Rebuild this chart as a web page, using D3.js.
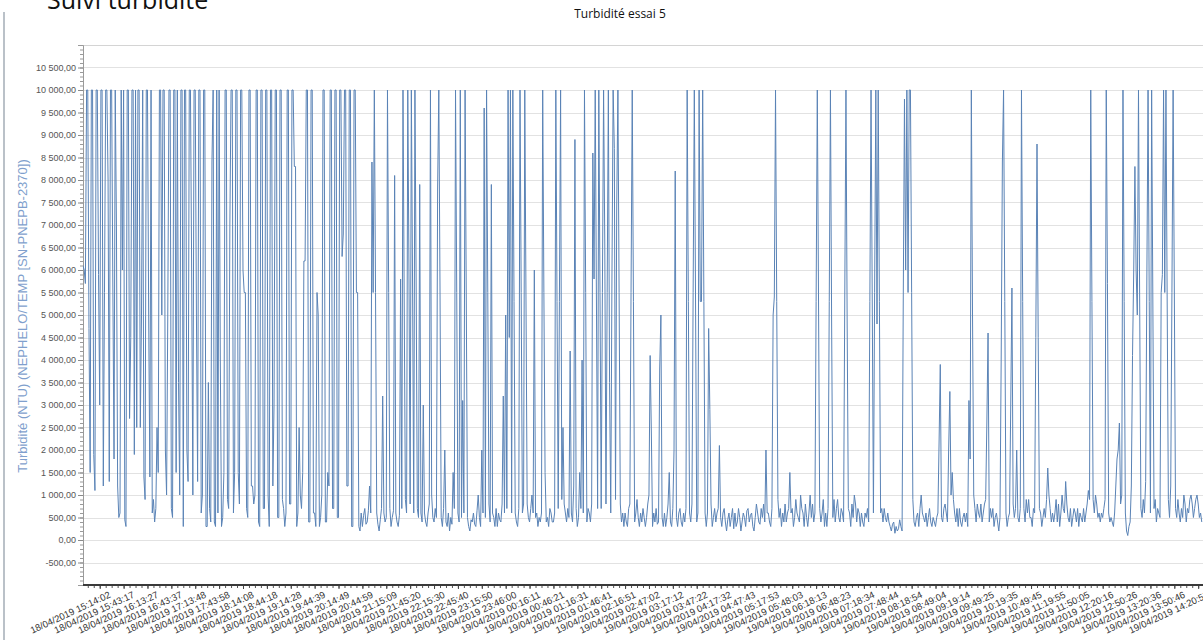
<!DOCTYPE html>
<html>
<head>
<meta charset="utf-8">
<script src="https://cdn.jsdelivr.net/npm/d3@7/dist/d3.min.js"></script>
<style>
  body { margin: 0; background: #fff; }
  svg { display: block; }
</style>
</head>
<body>
<svg id="chart" width="1203" height="640"></svg>
<script>
const tickLabels = [
  '18/04/2019 15:14:02','18/04/2019 15:43:17','18/04/2019 16:13:27','18/04/2019 16:43:37',
  '18/04/2019 17:13:48','18/04/2019 17:43:58','18/04/2019 18:14:08','18/04/2019 18:44:18',
  '18/04/2019 19:14:28','18/04/2019 19:44:39','18/04/2019 20:14:49','18/04/2019 20:44:59',
  '18/04/2019 21:15:09','18/04/2019 21:45:20','18/04/2019 22:15:30','18/04/2019 22:45:40',
  '18/04/2019 23:15:50','18/04/2019 23:46:00','19/04/2019 00:16:11','19/04/2019 00:46:21',
  '19/04/2019 01:16:31','19/04/2019 01:46:41','19/04/2019 02:16:51','19/04/2019 02:47:02',
  '19/04/2019 03:17:12','19/04/2019 03:47:22','19/04/2019 04:17:32','19/04/2019 04:47:43',
  '19/04/2019 05:17:53','19/04/2019 05:48:03','19/04/2019 06:18:13','19/04/2019 06:48:23',
  '19/04/2019 07:18:34','19/04/2019 07:48:44','19/04/2019 08:18:54','19/04/2019 08:49:04',
  '19/04/2019 09:19:14','19/04/2019 09:49:25','19/04/2019 10:19:35','19/04/2019 10:49:45',
  '19/04/2019 11:19:55','19/04/2019 11:50:05','19/04/2019 12:20:16','19/04/2019 12:50:26',
  '19/04/2019 13:20:36','19/04/2019 13:50:46','19/04/2019 14:20:57'
];

// sample index of the first labelled time, then one label every 20 samples
const firstLabelIndex = 14;
const samplesPerLabel = 20;

// turbidity (NTU), one row per label interval
const turbidity = [
  6100,6000,5700,10000,10000,4700,1500,10000,10000,1900,1100,10000,10000,5900,
  3000,10000,10000,1200,5500,10000,10000,8000,1300,10000,10000,5600,1800,10000,7000,1200,500,600,10000,6000,
  10000,450,300,10000,10000,2700,4500,10000,10000,1900,10000,2500,10000,10000,2500,5000,10000,1400,900,10000,
  10000,5000,1400,10000,600,900,400,700,2500,1500,10000,10000,5000,10000,10000,2000,1000,5000,10000,10000,
  700,500,10000,10000,1500,10000,3500,1000,10000,10000,300,10000,10000,2000,1300,10000,10000,6000,1000,10000,
  10000,5000,1300,10000,10000,600,1000,10000,10000,300,300,3500,700,400,8400,10000,400,300,10000,600,
  10000,4000,300,500,1500,10000,10000,900,700,7000,10000,10000,600,1500,10000,10000,1500,800,10000,10000,
  6000,5500,5500,700,500,10000,10000,1200,1200,800,1000,10000,10000,400,300,10000,10000,700,700,10000,
  10000,1000,300,10000,10000,1200,3000,10000,10000,500,500,10000,10000,900,700,300,600,10000,10000,800,
  800,10000,10000,8300,8300,300,600,2500,1000,700,1500,6200,6200,10000,10000,400,400,10000,10000,600,
  600,300,5500,5000,300,500,1000,10000,10000,400,400,1500,1200,10000,10000,700,700,10000,10000,500,
  500,10000,10000,6300,6800,10000,10000,1200,1200,10000,10000,300,300,10000,10000,5500,5500,300,200,600,
  300,550,700,350,400,650,1200,600,8400,5500,10000,5500,600,350,200,450,700,3200,600,400,
  500,10000,5500,700,300,500,650,8100,600,400,300,550,5800,700,10000,5400,900,600,10000,6000,
  800,10000,5800,600,10000,5800,700,500,7900,600,400,3000,600,400,300,600,800,10000,1000,500,
  400,700,500,7800,10000,5600,500,300,700,2000,400,300,600,200,500,350,1500,700,10000,5500,
  600,400,10000,500,3100,600,10000,5400,500,300,200,450,400,600,350,300,650,1000,500,300,
  2000,600,9600,500,10000,5500,800,400,7900,600,500,300,700,300,600,450,400,800,3200,600,
  5000,700,10000,4500,10000,600,10000,5300,600,400,300,700,10000,5500,600,800,10000,5400,800,500,
  400,700,1000,600,6000,500,600,300,500,400,600,10000,5500,1500,400,500,300,700,600,400,
  400,600,10000,5300,700,5300,10000,900,2500,800,600,400,700,500,4200,600,400,1200,8900,700,
  300,500,1500,700,4000,600,10000,5500,400,700,600,400,800,8600,5800,10000,5400,700,10000,5500,
  700,5500,10000,6600,800,5500,10000,3500,600,5800,10000,8700,900,7400,10000,5500,800,400,600,300,
  600,400,300,700,800,5500,10000,5300,400,600,900,500,300,600,400,700,500,300,500,800,
  1000,4100,2400,300,600,400,700,350,400,3800,5000,500,300,600,300,500,800,1500,400,300,
  700,2000,8200,500,300,600,700,400,300,600,400,700,10000,5300,600,400,800,5500,10000,5400,
  400,600,10000,5300,5300,10000,5300,600,300,600,4700,2900,800,300,500,700,400,600,700,2100,
  500,300,600,700,400,200,450,600,300,500,700,250,600,300,400,700,500,200,400,600,
  500,300,650,700,400,550,600,300,200,500,800,600,400,350,700,500,800,400,2000,600,
  600,400,300,700,5000,5400,10000,5300,900,500,700,300,600,400,800,400,600,700,1500,600,
  700,300,500,900,600,500,400,1000,700,600,300,800,500,300,600,1000,500,800,400,600,
  5300,10000,5400,700,400,600,900,300,600,300,700,5300,10000,4800,500,900,400,700,900,500,
  400,700,600,400,5400,10000,4800,700,600,300,800,500,1000,800,400,700,600,300,600,400,
  300,600,500,700,400,5300,10000,5400,600,5500,10000,4800,10000,5300,600,700,400,700,500,400,
  600,400,300,200,350,400,150,300,200,250,450,300,200,5400,9800,6000,10000,5500,10000,10000,
  5500,900,400,300,500,600,300,700,1000,600,500,400,600,300,500,700,400,300,500,400,
  300,500,600,2200,3900,500,400,700,800,600,400,2000,3300,1000,1500,900,600,400,700,300,
  700,400,300,500,600,400,600,300,3100,1800,10000,5000,1000,700,400,800,600,500,800,400,
  600,800,900,2600,4600,400,700,500,700,300,500,600,400,200,500,4000,8400,10000,5300,600,
  300,500,600,3000,5600,800,500,700,2000,500,400,700,10000,5300,700,400,900,600,900,500,
  500,300,700,600,4500,8800,4500,700,600,300,500,700,500,900,1600,1000,700,400,600,400,
  600,900,400,800,300,600,1000,700,600,1300,800,500,400,700,300,500,700,600,400,700,
  300,600,500,400,700,400,600,800,1100,900,10000,5300,900,600,1000,800,500,600,400,600,
  500,700,900,10000,5700,600,400,500,400,300,600,1200,1800,2000,2600,800,1000,10000,5300,600,
  200,100,300,400,1200,4100,6000,8300,6000,5000,10000,5200,700,500,900,600,1300,5800,10000,5300,
  600,10000,5400,700,900,400,700,600,500,5500,5900,10000,5500,10000,5400,900,500,1200,5500,10000,
  5600,700,500,900,600,400,700,500,1000,800,400,700,600,900,1000,800,500,700,900,1000,
  800,500,600,400
];

const yMajor = d3.range(-500, 10501, 500);
const yMinor = d3.range(-1000, 11001, 100);

const plotLeft = 83, plotTop = 45, plotRight = 1203, plotBottom = 585;
const step = 1.194;

const svg = d3.select('#chart');

const x = d3.scaleLinear()
  .domain([0, turbidity.length - 1])
  .range([plotLeft, plotLeft + (turbidity.length - 1) * step]);
const y = d3.scaleLinear()
  .domain([-1000, 11000])
  .range([plotBottom, plotTop]);

const fr = d3.formatLocale({decimal: ',', thousands: ' ', grouping: [3], currency: ['', ''], minus: '-'});
const fmt = fr.format(',.2f');

// page border and cut-off heading
svg.append('line')
  .attr('x1', 4).attr('x2', 4)
  .attr('y1', 12).attr('y2', 640)
  .attr('stroke', '#a3acb6')
  .attr('stroke-width', 1.5);

svg.append('text')
  .attr('x', 47).attr('y', 9)
  .style('font-family', 'Open Sans')
  .style('font-size', '25px')
  .attr('fill', '#111')
  .text('Suivi turbidité');

svg.append('text')
  .attr('x', 620).attr('y', 18)
  .attr('text-anchor', 'middle')
  .style('font-family', 'Open Sans')
  .style('font-size', '12px')
  .attr('fill', '#111')
  .text('Turbidité essai 5');

// grid
svg.append('g')
  .selectAll('line')
  .data(yMajor)
  .join('line')
  .attr('x1', plotLeft).attr('x2', plotRight)
  .attr('y1', d => Math.round(y(d)) + 0.5)
  .attr('y2', d => Math.round(y(d)) + 0.5)
  .attr('stroke', '#e2e2e2');

svg.append('line')
  .attr('x1', plotLeft).attr('x2', plotRight)
  .attr('y1', plotTop + 0.5).attr('y2', plotTop + 0.5)
  .attr('stroke', '#d4d4d4');

// y axis
const yMinorAxis = svg.append('g')
  .attr('transform', `translate(${plotLeft},0)`)
  .call(d3.axisLeft(y).tickValues(yMinor).tickSize(3).tickFormat(''));
yMinorAxis.select('.domain').remove();
yMinorAxis.selectAll('line').attr('stroke', '#9a9a9a');

const yAxis = svg.append('g')
  .attr('transform', `translate(${plotLeft},0)`)
  .call(d3.axisLeft(y).tickValues(yMajor).tickSize(5).tickPadding(2).tickFormat(fmt));
yAxis.select('.domain').attr('stroke', '#9a9a9a');
yAxis.selectAll('line').attr('stroke', '#8a8a8a');
yAxis.selectAll('text')
  .style('font-family', 'Liberation Sans')
  .style('font-size', '9px')
  .attr('fill', '#555');

svg.append('text')
  .attr('transform', 'translate(27,316)rotate(-90)')
  .attr('text-anchor', 'middle')
  .style('font-family', 'Liberation Sans')
  .style('font-size', '13px')
  .attr('fill', '#7f9fcd')
  .text('Turbidité (NTU) (NEPHELO/TEMP [SN-PNEPB-2370])');

// series
svg.append('clipPath')
  .attr('id', 'plot-clip')
  .append('rect')
  .attr('x', plotLeft).attr('y', plotTop)
  .attr('width', plotRight - plotLeft).attr('height', plotBottom - plotTop);

const line = d3.line()
  .x((d, i) => x(i))
  .y(d => y(d));

svg.append('path')
  .datum(turbidity)
  .attr('clip-path', 'url(#plot-clip)')
  .attr('fill', 'none')
  .attr('stroke', '#5a83b6')
  .attr('stroke-width', 1)
  .attr('stroke-linejoin', 'miter')
  .attr('d', line);

// x axis
const labelIdx = tickLabels.map((t, i) => firstLabelIndex + i * samplesPerLabel);
const minorIdx = d3.range(firstLabelIndex % 5, turbidity.length, 5);

const xMinorAxis = svg.append('g')
  .attr('transform', `translate(0,${plotBottom})`)
  .call(d3.axisBottom(x).tickValues(minorIdx).tickSize(3).tickFormat(''));
xMinorAxis.select('.domain').remove();
xMinorAxis.selectAll('line').attr('stroke', '#555');

const xAxis = svg.append('g')
  .attr('transform', `translate(0,${plotBottom})`)
  .call(d3.axisBottom(x).tickValues(labelIdx).tickSize(4).tickFormat((d, i) => tickLabels[i]));
xAxis.select('.domain').remove();
xAxis.selectAll('line').attr('stroke', '#444');
xAxis.selectAll('text')
  .attr('x', 0).attr('y', 0).attr('dy', 0)
  .attr('text-anchor', 'end')
  .attr('transform', 'translate(11,12)rotate(-25)')
  .style('font-family', 'Liberation Sans')
  .style('font-size', '9.5px')
  .attr('fill', '#333');

svg.append('line')
  .attr('x1', plotLeft).attr('x2', plotRight)
  .attr('y1', plotBottom).attr('y2', plotBottom)
  .attr('stroke', '#3a3a3a')
  .attr('stroke-width', 2);
</script>
</body>
</html>
